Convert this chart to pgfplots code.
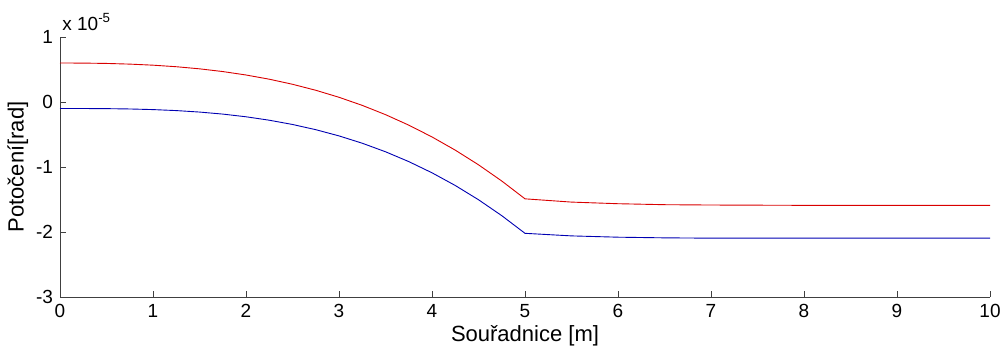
\documentclass[border=0pt]{standalone}
\usepackage{pgfplots}
\pgfplotsset{compat=1.18}
\usepackage{fontspec}
\setmainfont{Liberation Sans}

% rotation along the beam, values in units of 1e-5 rad
\pgfplotstableread{
x y
0 0.6000
0.25 0.5985
0.5 0.5932
0.75 0.5828
1 0.5664
1.25 0.5426
1.5 0.5103
1.75 0.4683
2 0.4155
2.25 0.3507
2.5 0.2727
2.75 0.1804
3 0.0725
3.25 -0.0521
3.5 -0.1945
3.75 -0.3559
4 -0.5376
4.25 -0.7407
4.5 -0.9662
4.75 -1.2155
5 -1.4898
5.5 -1.5400
6 -1.5650
6.5 -1.5800
7 -1.5850
8 -1.5900
9 -1.5900
10 -1.5900
}\rotupper

\pgfplotstableread{
x y
0 -0.1000
0.25 -0.1004
0.5 -0.1023
0.75 -0.1074
1 -0.1169
1.25 -0.1322
1.5 -0.1548
1.75 -0.1861
2 -0.2274
2.25 -0.2802
2.5 -0.3459
2.75 -0.4259
3 -0.5216
3.25 -0.6344
3.5 -0.7656
3.75 -0.9168
4 -1.0893
4.25 -1.2845
4.5 -1.5038
4.75 -1.7487
5 -2.0205
5.5 -2.0600
6 -2.0800
6.5 -2.0900
7 -2.0950
8 -2.0950
9 -2.0950
10 -2.0950
}\rotlower

\begin{document}
\begin{tikzpicture}
\path[use as bounding box] (-30pt,-27pt) rectangle (473pt,148.5pt);
\begin{axis}[
  at={(0,0)}, anchor=south west,
  scale only axis,
  width=465pt, height=130pt,
  xmin=0, xmax=10, ymin=-3, ymax=1,
  axis x line=bottom, axis y line=left,
  axis line style={-, draw=black!75, line width=0.4pt},
  tick style={draw=black!75, line width=0.4pt},
  tick align=inside,
  major tick length=3pt,
  xtick={0,...,10}, ytick={-3,...,1},
  ticklabel style={font=\fontsize{9.5}{10}\selectfont},
  /pgf/number format/assume math mode=true,
  xticklabel style={yshift=0pt},
  xlabel={Souřadnice [m]},
  ylabel={Potočení[rad]},
  label style={font=\fontsize{11}{12}\selectfont},
  xlabel style={yshift=3pt},
  ylabel style={yshift=-3pt},
  clip=false,
]
\addplot[red!85!black, line width=0.45pt] table[x=x,y=y] {\rotupper};
\addplot[blue!70!black, line width=0.45pt] table[x=x,y=y] {\rotlower};
\node[anchor=south west, font=\fontsize{9.5}{10}\selectfont, inner sep=0pt]
  at (rel axis cs:0,1) [xshift=1pt, yshift=3pt] {x 10\textsuperscript{-5}};
\end{axis}
\end{tikzpicture}
\end{document}
